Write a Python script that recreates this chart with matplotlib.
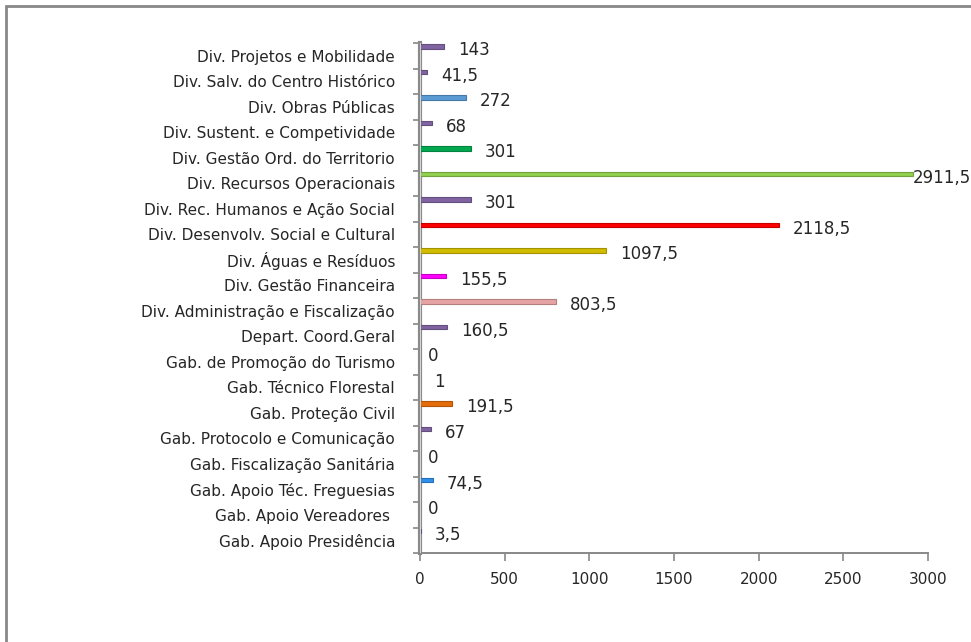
import matplotlib
matplotlib.use("Agg")
import matplotlib.pyplot as plt
from matplotlib.colors import to_rgb
from matplotlib.patches import Rectangle

# categories, bottom -> top
categorias = ["Gab. Apoio Presidência", "Gab. Apoio Vereadores ", "Gab. Apoio Téc. Freguesias",
              "Gab. Fiscalização Sanitária", "Gab. Protocolo e Comunicação", "Gab. Proteção Civil",
              "Gab. Técnico Florestal", "Gab. de Promoção do Turismo", "Depart. Coord.Geral",
              "Div. Administração e Fiscalização", "Div. Gestão Financeira", "Div. Águas e Resíduos",
              "Div. Desenvolv. Social e Cultural", "Div. Rec. Humanos e Ação Social",
              "Div. Recursos Operacionais", "Div. Gestão Ord. do Territorio",
              "Div. Sustent. e Competividade", "Div. Obras Públicas",
              "Div. Salv. do Centro Histórico", "Div. Projetos e Mobilidade"]
valores = [3.5, 0, 74.5, 0, 67, 191.5, 1, 0, 160.5, 803.5, 155.5, 1097.5,
           2118.5, 301, 2911.5, 301, 68, 272, 41.5, 143]
cores = ["#8064A2", "#8064A2", "#2F8FEA", "#8064A2", "#8064A2", "#E46C0A", "#8064A2",
         "#8064A2", "#8064A2", "#E6A3A3", "#FF00FF", "#D2BC00", "#FF0000", "#8064A2",
         "#92D050", "#00A84F", "#8064A2", "#5B9BD5", "#8064A2", "#8064A2"]
xticks = [0, 500, 1000, 1500, 2000, 2500, 3000]

def fmt(v):
    if v == int(v):
        return str(int(v))
    return str(v).replace(".", ",")

fig = plt.figure(figsize=(9.71, 6.42), dpi=100)
ax = fig.add_axes([420/971, 1-553/642, 508/971, 510/642])

# outer frame of the chart (cut at right and bottom)
fig.patches.append(Rectangle((6/971, -0.1), 1.2, 1-6/642+0.1, transform=fig.transFigure,
                             fill=False, edgecolor="#888888", lw=2.0))

n = len(categorias)
pos = list(range(n))
ybar = [p + 0.36 for p in pos]
bordas = [tuple(c*0.78 for c in to_rgb(k)) for k in cores]
ax.barh(ybar, valores, height=0.19, color=cores, edgecolor=bordas, lw=0.8, zorder=3)

for p, v in zip(pos, valores):
    off = 8 if v == 0 else 14
    if v > 2800:
        off = 0
    ax.annotate(fmt(v), (v, p + 0.21), xytext=(off, 0), textcoords="offset pixels",
                va="center", ha="left", fontsize=12, color="#262626", family="DejaVu Sans")

ax.set_xlim(0, 3000)
ax.set_ylim(-0.5, n - 0.5)
ax.set_xticks(xticks)
ax.set_xticklabels([str(t) for t in xticks], fontsize=11, color="#262626")
ax.set_yticks(pos)
ax.set_yticklabels(categorias, fontsize=11, color="#262626")
ax.set_yticks([p - 0.5 for p in range(n + 1)], minor=True)
ax.tick_params(axis="y", which="major", length=0, pad=18)
ax.tick_params(axis="y", which="minor", length=5, width=1.2, color="#888888")
ax.tick_params(axis="x", length=6, width=1.2, color="#888888", pad=8)

for s in ["top", "right"]:
    ax.spines[s].set_visible(False)
ax.spines["bottom"].set_color("#888888")
ax.spines["bottom"].set_linewidth(1.4)
ax.spines["left"].set_color("#8a8a8a")
ax.spines["left"].set_linewidth(3.0)
ax.axvline(0, color="#d8d8d8", lw=0.7, zorder=4)

fig.savefig("out.png", dpi=100)
